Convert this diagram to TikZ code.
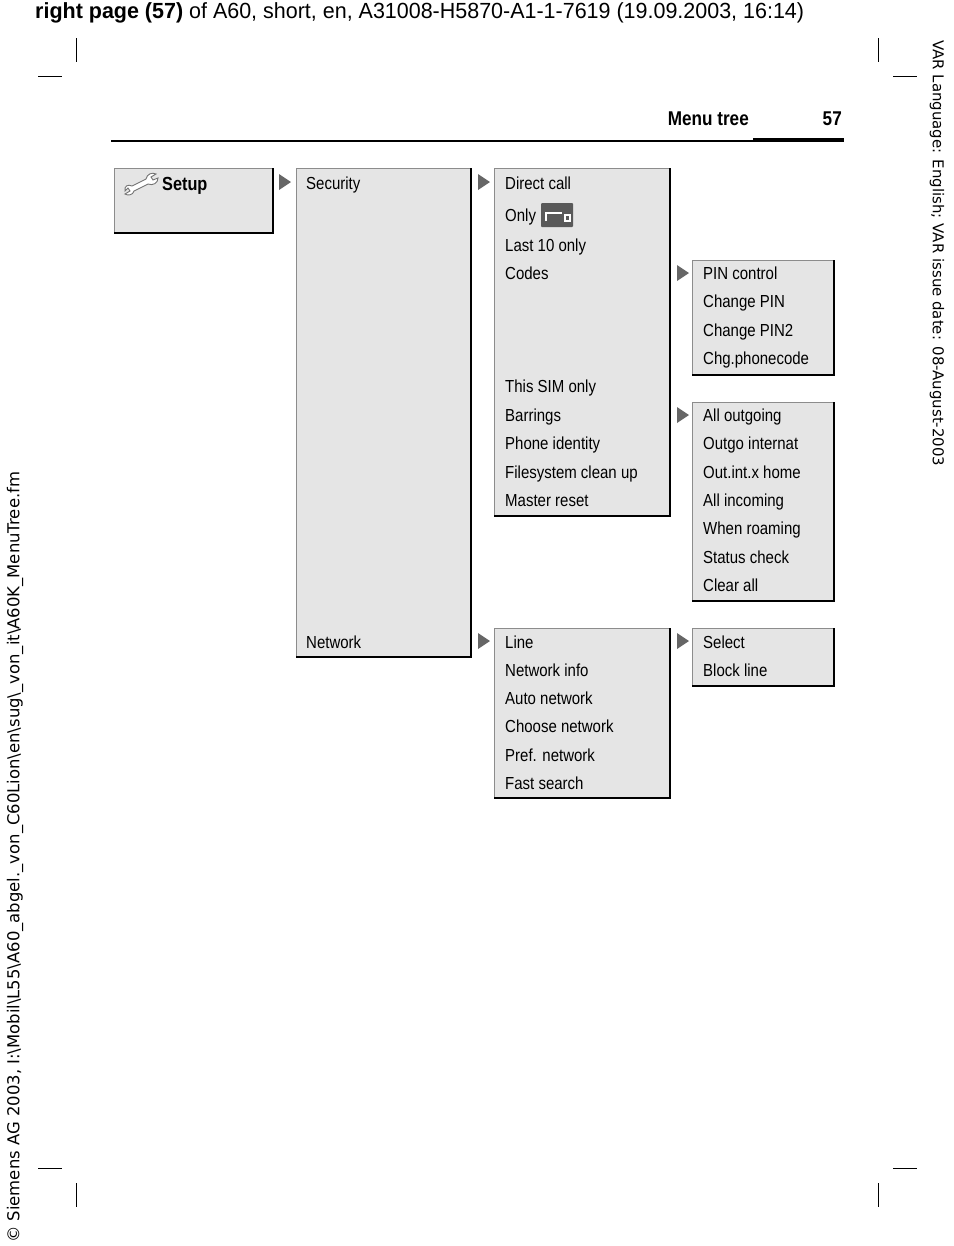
\documentclass[tikz,border=0pt]{standalone}
\usepackage{fontspec}
\setmainfont{Liberation Sans}[FakeStretch=0.86]
\newfontfamily\headfont{Liberation Sans}[FakeStretch=0.98]
\newfontfamily\sidefont{DejaVu Sans}
\usetikzlibrary{positioning}
\tikzset{
  item/.style={anchor=base west, inner sep=0pt, font=\fontsize{17.5}{17.5}\selectfont},
  crop/.style={line width=0.8pt}
}
% menu box with a dark shadow edge on the right and bottom
\newcommand{\menubox}[5]{%
  \fill[black!10] (#2,#3) rectangle (#4,#5);
  \draw[draw=black!45, line width=0.8pt] (#2,#5) -- (#2,#3) -- (#4,#3);
  \draw[line width=2.6pt] (#4,#3) -- (#4,#5) -- (#2,#5);
  \coordinate (#1) at (#2,#3);}
\newcommand{\pointer}[2]{\fill[black!60] (#1,#2-8) -- (#1+12,#2) -- (#1,#2+8) -- cycle;}
\begin{document}
\begin{tikzpicture}[x=1bp, y=-1bp]
  \useasboundingbox (0,0) rectangle (954,1246);
  % page header
  \node[anchor=west, inner sep=0pt, font=\headfont\fontsize{22}{22}\selectfont] (head) at (35,13)
    {\textbf{right page (57)} of A60, short, en, A31008-H5870-A1-1-7619 (19.09.2003, 16:14)};
  \node[anchor=east, inner sep=0pt, font=\bfseries\fontsize{20}{20}\selectfont] (title) at (749,119) {Menu tree};
  \node[anchor=east, inner sep=0pt, font=\bfseries\fontsize{20}{20}\selectfont] (pnum) at (842,119) {57};
  \draw[line width=1.4pt] (111,141) -- (755,141);
  \draw[line width=4pt] (753,140) -- (844,140);
  % side texts
  \node[rotate=-90, anchor=west, inner sep=0pt, font=\sidefont\fontsize{15}{15}\selectfont] (var) at (937,40)
    {VAR Language: English; VAR issue date: 08-August-2003};
  \node[rotate=90, anchor=west, inner sep=0pt, font=\sidefont\fontsize{16.5}{16.5}\selectfont] (path) at (15,1243)
    {© Siemens AG 2003, I:\textbackslash Mobil\textbackslash L55\textbackslash A60\_abgel.\_von\_C60Lion\textbackslash en\textbackslash sug\textbackslash \_von\_it\textbackslash A60K\_MenuTree.fm};
  % crop marks
  \draw[crop] (76,38) -- (76,62);
  \draw[crop] (38,76) -- (62,76);
  \draw[crop] (878,38) -- (878,62);
  \draw[crop] (893,76) -- (917,76);
  \draw[crop] (76,1183) -- (76,1207);
  \draw[crop] (38,1168) -- (62,1168);
  \draw[crop] (878,1183) -- (878,1207);
  \draw[crop] (893,1168) -- (917,1168);
  % boxes
  \menubox{setup}{114}{168}{273}{233}
  \menubox{sec}{296}{168}{471}{657}
  \menubox{seclist}{494}{168}{670}{516}
  \menubox{codes}{692}{260}{834}{375}
  \menubox{barr}{692}{402}{834}{601}
  \menubox{net}{494}{628}{670}{798}
  \menubox{line}{692}{628}{834}{686}
  % pointers
  \pointer{279}{182}
  \pointer{478}{182}
  \pointer{677}{273}
  \pointer{677}{415}
  \pointer{478}{641}
  \pointer{677}{641}
  % setup with wrench
  \draw[black!55, line width=0.9pt, fill=white] (125,191) .. controls (124,186) and (128,184) .. (132,186)
    -- (146,179) .. controls (147,174) and (152,172) .. (156,174) -- (151,177) -- (153,180) -- (158,178)
    .. controls (158,183) and (153,186) .. (148,184) -- (134,191) .. controls (133,195) and (128,196) .. (125,194)
    -- (130,191) -- (128,188) -- cycle;
  \node[item, font=\bfseries\fontsize{19}{19}\selectfont] (setupt) at (162,190) {Setup};
  % second column
  \node[item] (security) at (306,189) {Security};
  \node[item] (network) at (306,648) {Network};
  % security list
  \node[item] (direct) at (505,189) {Direct call};
  \node[item] (only) at (505,221) {Only};
  \fill[black!65, rounded corners=1pt] (541,203) rectangle (573,227);
  \draw[white, line width=2pt] (546,221) -- (546,213) -- (562,213);
  \draw[white, line width=1.6pt] (565,215) rectangle (570,221);
  \node[item] (last) at (505,251) {Last 10 only};
  \node[item] (codest) at (505,279) {Codes};
  \node[item] (simonly) at (505,392) {This SIM only};
  \node[item] (barrt) at (505,421) {Barrings};
  \node[item] (phoneid) at (505,449) {Phone identity};
  \node[item] (fsclean) at (505,478) {Filesystem clean up};
  \node[item] (master) at (505,506) {Master reset};
  % codes list
  \node[item] (pinctl) at (703,279) {PIN control};
  \node[item] (chpin) at (703,307) {Change PIN};
  \node[item] (chpin2) at (703,336) {Change PIN2};
  \node[item] (chgph) at (703,364) {Chg.phonecode};
  % barrings list
  \node[item] (allout) at (703,421) {All outgoing};
  \node[item] (outint) at (703,449) {Outgo internat};
  \node[item] (outhome) at (703,478) {Out.int.x home};
  \node[item] (allin) at (703,506) {All incoming};
  \node[item] (roam) at (703,534) {When roaming};
  \node[item] (status) at (703,563) {Status check};
  \node[item] (clear) at (703,591) {Clear all};
  % network list
  \node[item] (linet) at (505,648) {Line};
  \node[item] (netinfo) at (505,676) {Network info};
  \node[item] (autonet) at (505,704) {Auto network};
  \node[item] (choose) at (505,732) {Choose network};
  \node[item] (pref) at (505,761) {Pref. network};
  \node[item] (fast) at (505,789) {Fast search};
  % line list
  \node[item] (select) at (703,648) {Select};
  \node[item] (block) at (703,676) {Block line};
\end{tikzpicture}
\end{document}
